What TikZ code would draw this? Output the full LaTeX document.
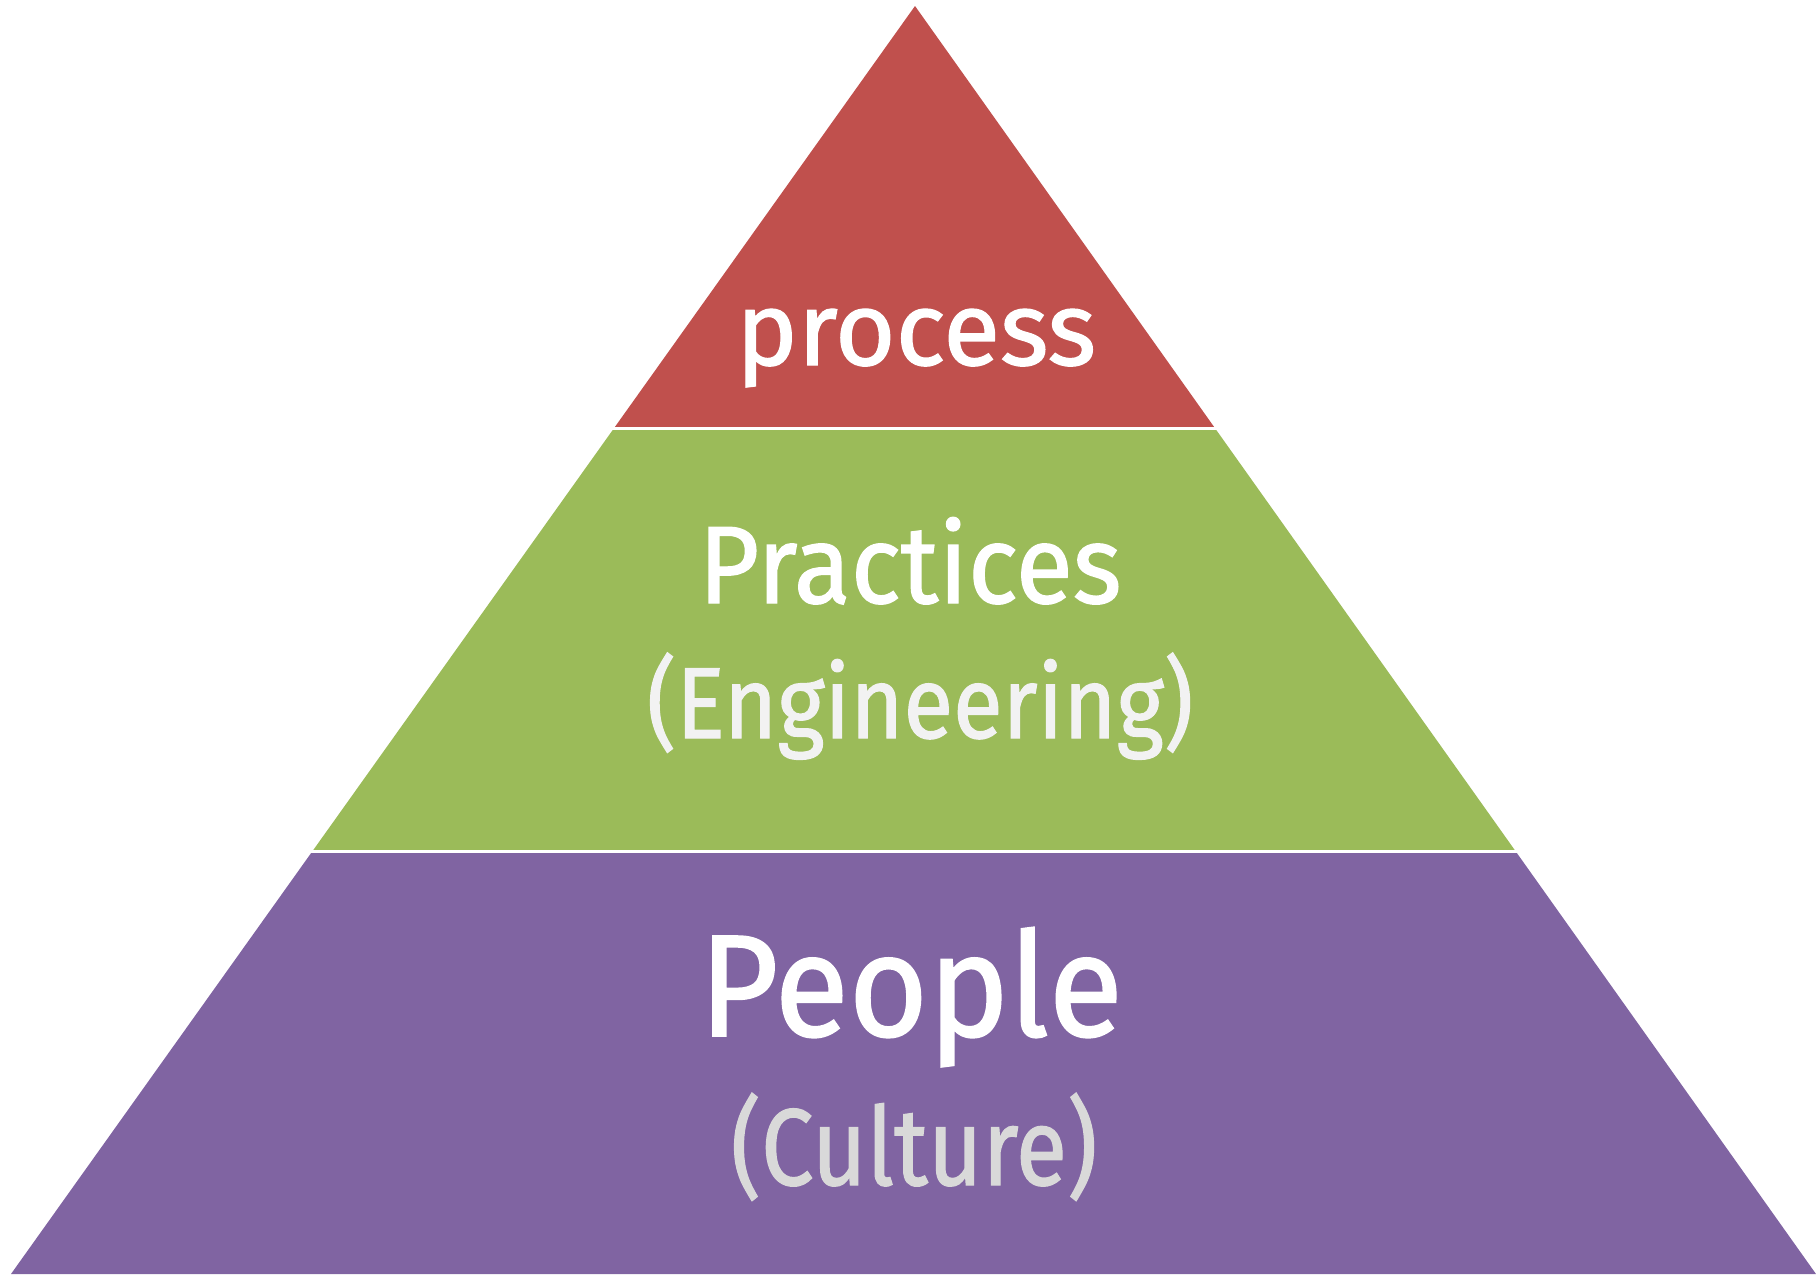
\documentclass[tikz,border=0pt]{standalone}
\usepackage{fontspec}
\setmainfont{Fira Sans}
\newfontfamily\handfont{Fira Sans}[FakeBold=1.2]
\usetikzlibrary{calc}
\definecolor{procred}{HTML}{C0504D}
\definecolor{pracgreen}{HTML}{9BBB59}
\definecolor{peoplepurple}{HTML}{8064A2}
\definecolor{softwhite}{HTML}{F2F2F2}
\definecolor{softgrey}{HTML}{D9D9D9}

\begin{document}
\begin{tikzpicture}[x=1pt,y=-1pt,
    word/.style={anchor=base, inner sep=0pt, text=white, transform shape},
    subword/.style={anchor=base, inner sep=0pt, transform shape}]
    \useasboundingbox (0,0) rectangle (1816,1275);

    % Corners
    \coordinate (top) at (915,6);
    \coordinate (bl) at (11,1274);
    \coordinate (br) at (1816,1274);
    \coordinate (l1) at ($(top)!1/3!(bl)$);
    \coordinate (r1) at ($(top)!1/3!(br)$);
    \coordinate (l2) at ($(top)!2/3!(bl)$);
    \coordinate (r2) at ($(top)!2/3!(br)$);

    % Bands
    \fill[procred] (top) -- (r1) -- (l1) -- cycle;
    \fill[pracgreen] (l1) -- (r1) -- (r2) -- (l2) -- cycle;
    \fill[peoplepurple] (l2) -- (r2) -- (br) -- (bl) -- cycle;

    % Gaps
    \draw[white, line width=3pt] ($(l1)+(-5,0)$) -- ($(r1)+(5,0)$);
    \draw[white, line width=3pt] ($(l2)+(-5,0)$) -- ($(r2)+(5,0)$);

    % Labels
    \node[word, xscale=1.0, font=\handfont\fontsize{104}{110}\selectfont] (process) at (916,365) {process};
    \node[word, xscale=0.95, font=\handfont\fontsize{110}{120}\selectfont] (practices) at (910,603) {Practices};
    \node[subword, xscale=0.9, text=softwhite, font=\handfont\fontsize{101}{110}\selectfont] (engineering) at (920,738) {(Engineering)};
    \node[word, xscale=0.94, font=\handfont\fontsize{145}{150}\selectfont] (people) at (911,1036) {People};
    \node[subword, xscale=0.86, text=softgrey, font=\handfont\fontsize{109}{120}\selectfont] (culture) at (914,1185) {(Culture)};
\end{tikzpicture}
\end{document}
